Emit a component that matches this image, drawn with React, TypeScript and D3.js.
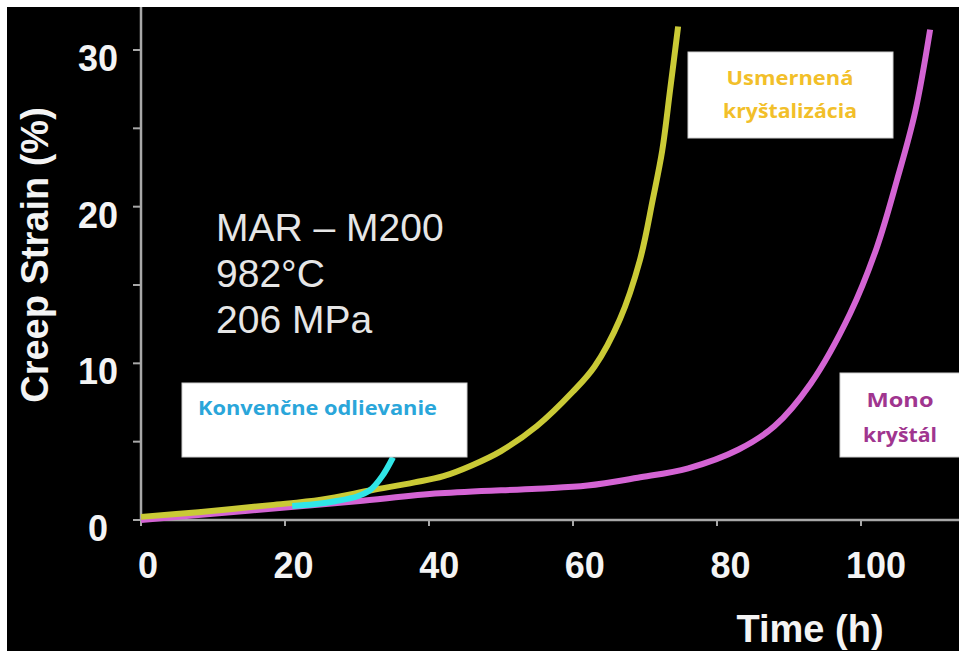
import React from "react";
import * as d3 from "d3";

const xTicks = [0, 20, 40, 60, 80, 100];
const yTicks = [0, 10, 20, 30];
const yMinorTicks = [5, 15, 25];

const usmerTime = [0, 8, 18, 25, 32, 38, 42, 46, 50, 55, 60, 63, 66.5, 69.3, 71.1, 72.4, 73.5, 74.6];
const usmerStrain = [0.2, 0.5, 0.95, 1.3, 1.9, 2.4, 2.8, 3.5, 4.4, 6.0, 8.2, 9.8, 12.8, 16.6, 20.5, 23.6, 27.5, 31.5];

const monoTime = [0, 10, 20, 30, 41.5, 55, 62, 69, 76, 83, 88, 93, 98.5, 102.2, 105, 107.5, 109.6];
const monoStrain = [0, 0.4, 0.8, 1.2, 1.7, 2.0, 2.2, 2.7, 3.3, 4.5, 6.0, 8.7, 13.2, 17.4, 21.7, 26, 31.3];

const konvTime = [21, 24, 27, 30, 31.8, 33.5, 35];
const konvStrain = [0.9, 1.0, 1.2, 1.5, 1.9, 2.8, 4.0];

const infoLines = ["MAR – M200", "982°C", "206 MPa"];

const W = 959;
const H = 651;

export default function App() {
  const x = d3.scaleLinear().domain([0, 100]).range([141, 861]);
  const xLab = d3.scaleLinear().domain([0, 100]).range([148, 876]);
  const y = d3.scaleLinear().domain([0, 30]).range([520, 50]);

  const line = d3
    .line<[number, number]>()
    .x((d) => x(d[0]))
    .y((d) => y(d[1]))
    .curve(d3.curveCatmullRom.alpha(0.5));

  const zip = (a: number[], b: number[]) => a.map((v, i) => [v, b[i]] as [number, number]);

  const sans = "'Liberation Sans', Arial, sans-serif";
  const labelFont = "'Open Sans', 'Noto Sans', sans-serif";

  return (
    <svg
      width={W}
      height={H}
      style={{ position: "absolute", left: 0, top: 0, display: "block" }}
    >
      <rect x={0} y={0} width={W} height={H} fill="#ffffff" />
      <rect x={7} y={7} width={W - 7} height={H - 7} fill="#000000" />

      {/* axes */}
      <line x1={141} x2={141} y1={7} y2={y(0)} stroke="#a8a8a8" strokeWidth={2.5} />
      <line x1={141} x2={W} y1={y(0)} y2={y(0)} stroke="#a8a8a8" strokeWidth={2.5} />
      {yTicks.concat(yMinorTicks).map((t) => (
        <line key={"yt" + t} x1={133} x2={141} y1={y(t)} y2={y(t)} stroke="#a8a8a8" strokeWidth={2} />
      ))}
      {xTicks.map((t) => (
        <line key={"xt" + t} x1={x(t)} x2={x(t)} y1={y(0)} y2={y(0) + 6} stroke="#a8a8a8" strokeWidth={2} />
      ))}

      {/* tick labels */}
      {yTicks.map((t) => (
        <text
          key={"yl" + t}
          x={98}
          y={y(t) + 21}
          textAnchor="middle"
          fill="#f4f4f4"
          fontFamily={sans}
          fontWeight="bold"
          fontSize={36}
        >
          {t}
        </text>
      ))}
      {xTicks.map((t) => (
        <text
          key={"xl" + t}
          x={xLab(t)}
          y={578}
          textAnchor="middle"
          fill="#f4f4f4"
          fontFamily={sans}
          fontWeight="bold"
          fontSize={36}
        >
          {t}
        </text>
      ))}

      {/* axis titles */}
      <text
        transform="translate(48,255) rotate(-90)"
        textAnchor="middle"
        fill="#f4f4f4"
        fontFamily={sans}
        fontWeight="bold"
        fontSize={38}
      >
        Creep Strain (%)
      </text>
      <text x={810} y={642} textAnchor="middle" fill="#f4f4f4" fontFamily={sans} fontWeight="bold" fontSize={38}>
        Time (h)
      </text>

      {/* info text */}
      {infoLines.map((s, i) => (
        <text key={s} x={216} y={241 + i * 46} fill="#e6e6e6" fontFamily={sans} fontSize={39}>
          {s}
        </text>
      ))}

      {/* curves */}
      <path d={line(zip(monoTime, monoStrain)) || ""} fill="none" stroke="#d464d4" strokeWidth={6} />
      <path d={line(zip(usmerTime, usmerStrain)) || ""} fill="none" stroke="#caca36" strokeWidth={6} />
      <path d={line(zip(konvTime, konvStrain)) || ""} fill="none" stroke="#30e6e8" strokeWidth={6} />

      {/* label boxes */}
      <rect x={688} y={52} width={205} height={86} fill="#ffffff" stroke="#d0d0d0" strokeWidth={1} />
      <text x={790} y={85} textAnchor="middle" fill="#f2bf2a" fontFamily={labelFont} fontWeight="bold" fontSize={19} textLength={127} lengthAdjust="spacingAndGlyphs">
        Usmernená
      </text>
      <text x={790} y={118} textAnchor="middle" fill="#f2bf2a" fontFamily={labelFont} fontWeight="bold" fontSize={19} textLength={134} lengthAdjust="spacingAndGlyphs">
        kryštalizácia
      </text>

      <rect x={182} y={383} width={285} height={74} fill="#ffffff" stroke="#d0d0d0" strokeWidth={1} />
      <text x={198} y={415} fill="#2aa6da" fontFamily={labelFont} fontWeight="bold" fontSize={19} textLength={239} lengthAdjust="spacingAndGlyphs">
        Konvenčne odlievanie
      </text>

      <rect x={840} y={373} width={125} height={84} fill="#ffffff" stroke="#d0d0d0" strokeWidth={1} />
      <text x={900} y={407} textAnchor="middle" fill="#a0358f" fontFamily={labelFont} fontWeight="bold" fontSize={19} textLength={67} lengthAdjust="spacingAndGlyphs">
        Mono
      </text>
      <text x={900} y={442} textAnchor="middle" fill="#a0358f" fontFamily={labelFont} fontWeight="bold" fontSize={19} textLength={74} lengthAdjust="spacingAndGlyphs">
        kryštál
      </text>
    </svg>
  );
}
